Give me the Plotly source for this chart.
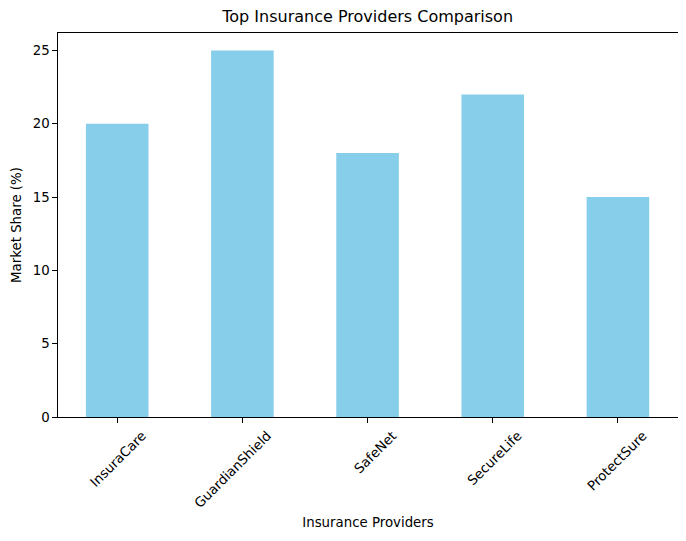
import plotly.graph_objects as go

providers = ["InsuraCare", "GuardianShield", "SafeNet", "SecureLife", "ProtectSure"]
market_share = [20, 25, 18, 22, 15]
y_ticks = [0, 5, 10, 15, 20, 25]

# page body has an 8px margin, so the figure is sized/placed to compensate
W, H = 678, 533
L, T, B = 49.5, 24.5, 124
PW = 620.3
R = W - L - PW

fig = go.Figure(go.Bar(
    x=list(range(len(providers))),
    y=market_share,
    width=0.5,
    marker=dict(color="#87CEEB", line=dict(width=0)),
))

font = "DejaVu Sans, Liberation Sans, sans-serif"
fig.update_layout(
    width=W, height=H,
    margin=dict(l=L, r=R, t=T, b=B, autoexpand=False),
    paper_bgcolor="white", plot_bgcolor="white",
    font=dict(family=font, size=13.33, color="black"),
    showlegend=False,
    title=dict(text="Top Insurance Providers Comparison", x=(L + PW / 2) / W, xanchor="center",
               y=1 - 8 / H, yanchor="middle", yref="container",
               font=dict(size=16, family=font, color="black")),
)
fig.update_xaxes(
    range=[-0.473, 4.48],
    tickmode="array", tickvals=list(range(len(providers))), ticktext=providers,
    tickangle=-45, ticks="outside", ticklen=4.7, tickwidth=1, tickcolor="black",
    ticklabelshift=25, ticklabelstandoff=0,
    showline=True, linecolor="black", linewidth=1, mirror=True,
    showgrid=False, zeroline=False,
    title=dict(text="Insurance Providers", standoff=7, font=dict(size=13.33)),
)
fig.update_yaxes(
    range=[0, 26.19],
    tickmode="array", tickvals=y_ticks,
    ticks="outside", ticklen=4.7, tickwidth=1, tickcolor="black",
    showline=True, linecolor="black", linewidth=1, mirror=True,
    showgrid=False, zeroline=False,
    title=dict(text="Market Share (%)", standoff=7, font=dict(size=13.33)),
)
fig.write_html("out.html")
